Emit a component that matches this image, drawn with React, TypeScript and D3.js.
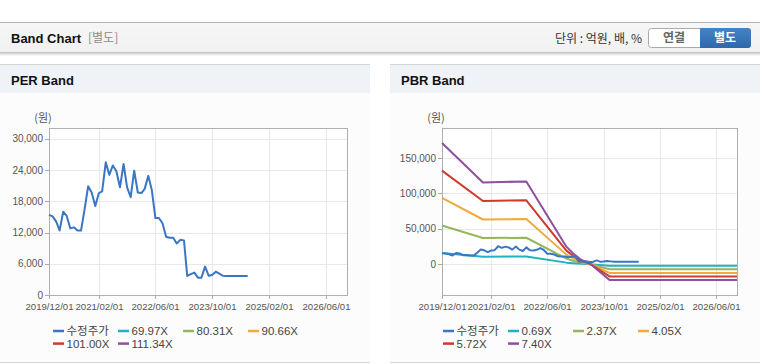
import React from 'react';
import * as d3 from 'd3';

// ---------- data ----------
const priceDates = [
  '2019-12','2020-01','2020-02','2020-03','2020-04','2020-05','2020-06','2020-07','2020-08','2020-09','2020-10','2020-11','2020-12',
  '2021-01','2021-02','2021-03','2021-04','2021-05','2021-06','2021-07','2021-08','2021-09','2021-10','2021-11','2021-12',
  '2022-01','2022-02','2022-03','2022-04','2022-05','2022-06','2022-07','2022-08','2022-09','2022-10','2022-11','2022-12',
  '2023-01','2023-02','2023-03','2023-04','2023-05','2023-06','2023-07','2023-08','2023-09','2023-10','2023-11','2023-12',
  '2024-01','2024-02','2024-03','2024-04','2024-05','2024-06','2024-07','2024-08'
];
const priceValues = [
  15400,15100,14100,12400,16000,15200,12800,13000,12400,12400,16400,20900,19700,
  17100,19600,19900,25500,23100,24900,23800,20700,25200,20700,18800,23900,
  19700,19600,20400,22900,20200,14800,14800,13800,11200,11000,11000,9900,
  10600,10500,3660,4000,4300,3330,3330,5450,3720,3850,4490,4100,
  3700,3660,3660,3660,3660,3660,3660,3660
];

const bandDates = ['2019-12-01','2020-11-20','2021-12-01','2022-11-13','2023-01-09','2023-03-23','2023-06-02','2023-11-22','2026-12-01'];
const pbr069 = [15960,10780,10910,2320,1460,570,130,-2070,-2070];
const pbr237 = [54830,37020,37470,7980,5000,1950,450,-7110,-7110];
const pbr405 = [93700,63260,64030,13630,8540,3340,770,-12150,-12150];
const pbr572 = [132330,89350,90430,19250,12060,4710,1080,-17160,-17160];
const pbr740 = [171200,115590,116990,24900,15600,6100,1400,-22200,-22200];

const perLegend = ['수정주가','69.97X','80.31X','90.66X','101.00X','111.34X'];
const pbrLegend = ['수정주가','0.69X','2.37X','4.05X','5.72X','7.40X'];
const seriesColors = ['#3a76c4','#22b1c2','#93b85c','#f0aa3c','#cf3a2e','#8e4f9c'];

const xTickDates = ['2019-12-01','2021-02-01','2022-06-01','2023-10-01','2025-02-01','2026-06-01'];
const xTickLabels = ['2019/12/01','2021/02/01','2022/06/01','2023/10/01','2025/02/01','2026/06/01'];
const perYTicks = [0,6000,12000,18000,24000,30000];
const pbrYTicks = [0,50000,100000,150000];
const xDomain = ['2019-12-01','2026-12-01'];
const perYDomain = [0, 32100];
const pbrYDomain = [-43400, 192500];

const FONT = '"Liberation Sans", Arial, "Noto Sans CJK KR", sans-serif';
const KFONT = '"Noto Sans CJK KR", "Liberation Sans", sans-serif';

const parse = (s: string) => new Date(s.length === 7 ? s + '-01T00:00:00' : s + 'T00:00:00');

type Series = { dates: Date[]; values: number[]; color: string };

function Chart(props: {
  left: number; right: number; top: number; bottom: number;
  yDomain: number[]; yTicks: number[]; series: Series[]; legend: string[]; legendX: number;
}) {
  const { left, right, top, bottom, yDomain, yTicks, series, legend, legendX } = props;
  const x = d3.scaleTime().domain(xDomain.map(parse)).range([left, right]);
  const y = d3.scaleLinear().domain(yDomain).range([bottom, top]);
  const fmt = d3.format(',');
  return (
    <g>
      <text x={left - 6} y={118} dy="0.36em" fontFamily={KFONT} fontSize={11} fill="#555" textAnchor="middle">(원)</text>
      <rect x={left + 0.5} y={top + 0.5} width={right - left} height={bottom - top} fill="#fff" />
      {yTicks.map((t, i) => (
        <g key={'y' + i}>
          <line x1={left} x2={right} y1={Math.round(y(t)) + 0.5} y2={Math.round(y(t)) + 0.5} stroke="#e8e8e8" />
          <line x1={left - 4} x2={left} y1={Math.round(y(t)) + 0.5} y2={Math.round(y(t)) + 0.5} stroke="#aaa" />
          <text x={left - 6} y={y(t)} dy="0.35em" fontFamily={FONT} fontSize={10} fill="#555" textAnchor="end">{fmt(t)}</text>
        </g>
      ))}
      {xTickDates.map((d, i) => {
        const px = Math.round(x(parse(d))) + 0.5;
        return (
          <g key={'x' + i}>
            <line x1={px} x2={px} y1={top} y2={bottom} stroke="#e8e8e8" />
            <line x1={px} x2={px} y1={bottom} y2={bottom + 4} stroke="#aaa" />
            <text x={px} y={307} dy="0.35em" fontFamily={FONT} fontSize={9.6} fill="#555" textAnchor="middle">{xTickLabels[i]}</text>
          </g>
        );
      })}
      <rect x={left + 0.5} y={top + 0.5} width={right - left} height={bottom - top} fill="none" stroke="#b0b0b0" />
      {series.map((s, i) => {
        const gen = d3.line<number>()
          .x((_, j) => x(s.dates[j]))
          .y((v) => y(v));
        return <path key={'s' + i} d={gen(s.values) || ''} fill="none" stroke={s.color} strokeWidth={2} strokeLinejoin="round" />;
      })}
      {legend.map((lab, i) => {
        const col = i % 4, row = Math.floor(i / 4);
        const lx = legendX + col * 65;
        const ly = 331 + row * 12.6;
        return (
          <g key={'l' + i}>
            <line x1={lx} x2={lx + 11} y1={ly} y2={ly} stroke={seriesColors[i]} strokeWidth={2.5} />
            <text x={lx + 13.5} y={ly} dy="0.36em" fontFamily={FONT} fontSize={11.5} fill="#444">{lab}</text>
          </g>
        );
      })}
    </g>
  );
}

export default function App() {
  const pd = priceDates.map(parse);
  const bd = bandDates.map(parse);
  const perSeries: Series[] = [{ dates: pd, values: priceValues, color: seriesColors[0] }];
  const bandValues = [pbr069, pbr237, pbr405, pbr572, pbr740];
  const pbrSeries: Series[] = [
    ...bandValues.map((v, i) => ({ dates: bd, values: v, color: seriesColors[i + 1] })),
    { dates: pd, values: priceValues, color: seriesColors[0] },
  ];
  return (
    <svg width={760} height={364} style={{ position: 'absolute', left: 0, top: 0, background: '#fff' }}>
      <defs>
        <linearGradient id="hdr" x1="0" y1="0" x2="0" y2="1">
          <stop offset="0" stopColor="#f6f6f6" />
          <stop offset="1" stopColor="#f1f1f1" />
        </linearGradient>
        <linearGradient id="btn" x1="0" y1="0" x2="0" y2="1">
          <stop offset="0" stopColor="#4384c6" />
          <stop offset="1" stopColor="#2f68ab" />
        </linearGradient>
        <linearGradient id="shadow" x1="0" y1="0" x2="0" y2="1">
          <stop offset="0" stopColor="#000" stopOpacity="0.18" />
          <stop offset="1" stopColor="#000" stopOpacity="0" />
        </linearGradient>
      </defs>
      {/* top header */}
      <rect x={0} y={22} width={760} height={31} fill="url(#hdr)" />
      <line x1={0} x2={760} y1={22.5} y2={22.5} stroke="#b4b4b4" />
      <line x1={0} x2={760} y1={52.5} y2={52.5} stroke="#c4c4c4" />
      <rect x={0} y={53} width={760} height={3} fill="url(#shadow)" />
      <text x={11} y={38} dy="0.36em" fontFamily={FONT} fontSize={13} fontWeight="bold" fill="#111">Band Chart</text>
      <text x={88} y={38} dy="0.36em" fontFamily={KFONT} fontSize={12} fill="#8a8a8a">[별도]</text>
      <text x={642} y={38.5} dy="0.36em" fontFamily={KFONT} fontSize={12} fill="#333" textAnchor="end">단위 : 억원, 배, %</text>
      <rect x={648.5} y={28.5} width={56} height={19} rx={3} fill="#fff" stroke="#aaa" />
      <rect x={700} y={28} width={51} height={20} rx={3} fill="url(#btn)" />
      <rect x={700} y={28} width={6} height={20} fill="url(#btn)" />
      <text x={674} y={38} dy="0.36em" fontFamily={KFONT} fontSize={12} fontWeight="bold" fill="#666" textAnchor="middle">연결</text>
      <text x={725} y={38} dy="0.36em" fontFamily={KFONT} fontSize={12} fontWeight="bold" fill="#fff" textAnchor="middle">별도</text>

      {/* panels */}
      {[{ x: 0, w: 370, t: 'PER Band' }, { x: 390, w: 370, t: 'PBR Band' }].map((p, i) => (
        <g key={'p' + i}>
          <rect x={p.x} y={64} width={p.w} height={298} fill="#fcfcfc" />
          <rect x={p.x} y={64} width={p.w} height={29} fill="#eff2f7" />
          <line x1={p.x} x2={p.x + p.w} y1={64.5} y2={64.5} stroke="#d6d6d6" />
          <line x1={p.x} x2={p.x + p.w} y1={362.5} y2={362.5} stroke="#d6d6d6" />
          <text x={p.x + 11} y={80} dy="0.36em" fontFamily={FONT} fontSize={13} fontWeight="bold" fill="#111">{p.t}</text>
        </g>
      ))}

      <Chart left={49} right={347} top={128} bottom={295} yDomain={perYDomain} yTicks={perYTicks}
        series={perSeries} legend={perLegend} legendX={53} />
      <Chart left={442} right={737} top={128} bottom={295} yDomain={pbrYDomain} yTicks={pbrYTicks}
        series={pbrSeries} legend={pbrLegend} legendX={443} />
    </svg>
  );
}
